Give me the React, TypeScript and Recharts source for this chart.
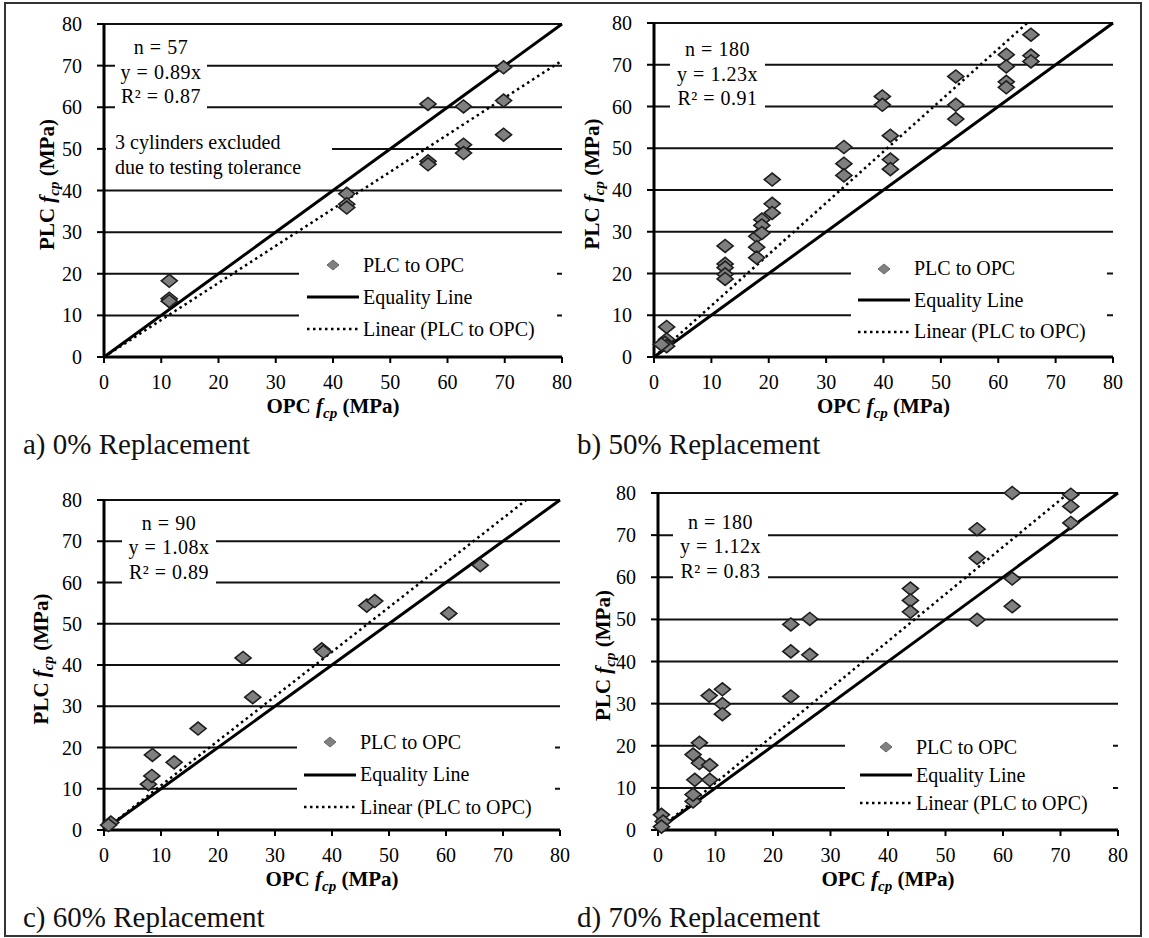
import React from "react";
import { ScatterChart, Scatter, XAxis, YAxis, CartesianGrid, Legend } from "recharts";

// a) 0% replacement
const opcA = [11.4, 11.4, 11.4, 42.4, 42.4, 42.4, 56.6, 56.6, 56.6, 62.8, 62.8, 62.8, 69.8, 69.8, 69.8];
const plcA = [18.3, 14.0, 13.4, 39.2, 36.7, 35.9, 60.8, 47.0, 46.3, 60.2, 51.0, 49.0, 69.6, 61.6, 53.4];

// b) 50% replacement
const opcB = [2.2, 2.2, 1.9, 2.2, 1.3, 12.4, 12.4, 12.4, 12.4, 12.4, 17.9, 17.9, 17.9, 18.8, 18.8, 18.8, 20.6, 20.6, 20.6,
  33.1, 33.1, 33.1, 39.8, 39.8, 41.2, 41.2, 41.2, 52.6, 52.6, 52.6, 61.4, 61.4, 61.4, 61.4, 65.7, 65.7, 65.7];
const plcB = [7.2, 4.2, 3.4, 2.6, 3.0, 26.6, 22.3, 21.4, 19.8, 18.7, 28.9, 26.3, 23.8, 32.9, 31.5, 29.7, 42.5, 36.7, 34.5,
  50.3, 46.3, 43.5, 62.4, 60.4, 53.0, 47.3, 45.0, 67.2, 60.4, 57.0, 72.4, 69.6, 65.9, 64.6, 77.2, 72.2, 70.8];

// c) 60% replacement
const opcC = [1.2, 0.8, 7.8, 8.4, 8.5, 12.3, 16.5, 24.4, 26.1, 38.2, 38.5, 46.1, 47.5, 60.5, 66.0];
const plcC = [1.8, 1.2, 11.1, 13.1, 18.2, 16.4, 24.6, 41.7, 32.2, 43.8, 43.2, 54.4, 55.5, 52.5, 64.2];

// d) 70% replacement
const opcD = [0.6, 0.9, 0.6, 6.1, 6.1, 6.4, 6.1, 7.2, 7.2, 9.0, 9.0, 8.9, 11.2, 11.2, 11.2, 23.1, 23.1, 23.1, 26.4, 26.4,
  43.9, 43.9, 43.9, 55.5, 55.5, 55.5, 61.6, 61.6, 61.6, 71.8, 71.8, 71.8];
const plcD = [3.6, 2.0, 0.8, 6.8, 8.4, 11.9, 17.9, 20.7, 15.9, 15.4, 11.9, 31.9, 33.4, 29.9, 27.5, 48.8, 42.4, 31.7, 50.1, 41.6,
  57.3, 54.5, 51.8, 71.4, 64.6, 49.9, 80.0, 59.7, 53.1, 79.6, 76.8, 72.9];

const axisTicks = [0, 10, 20, 30, 40, 50, 60, 70, 80];
const slopes = [0.89, 1.23, 1.08, 1.12];
const counts = [57, 180, 90, 180];
const rSquared = [0.87, 0.91, 0.89, 0.83];
const captions = ["a) 0% Replacement", "b) 50% Replacement", "c) 60% Replacement", "d) 70% Replacement"];
const legendNames = ["PLC to OPC", "Equality Line", "Linear (PLC to OPC)"];
const excludedNote = ["3 cylinders excluded", "due to testing tolerance"];

const AXIS_MAX = 80;
const SERIF = '"Liberation Serif", "Times New Roman", Times, "DejaVu Serif", serif';
const CHART_W = 575;
const CHART_H = 440;

const toPoints = (xs: number[], ys: number[]) => xs.map((x, i) => ({ x, y: ys[i] }));

const Diamond = (props: any) => {
  const { cx, cy } = props;
  if (cx == null || cy == null) return <g />;
  return (
    <polygon
      points={`${cx - 8},${cy} ${cx},${cy - 6.5} ${cx + 8},${cy} ${cx},${cy + 6.5}`}
      fill="#7f7f7f"
      stroke="#1e1e1e"
      strokeWidth={1.6}
    />
  );
};

const NoShape = () => <g />;

const renderXTitle = (props: any) => {
  const { x, y, width } = props.viewBox;
  return (
    <text x={x + width / 2} y={y + 56} textAnchor="middle" style={{ fontFamily: SERIF }} fontSize={21} fontWeight="bold" fill="#000">
      OPC <tspan fontStyle="italic">f</tspan>
      <tspan fontStyle="italic" fontSize={15} dy={5}>cp</tspan>
      <tspan dy={-5}> (MPa)</tspan>
    </text>
  );
};

const makeYTitle = (gap: number) => (props: any) => {
  const { x, y, width, height } = props.viewBox;
  const tx = x + width - gap;
  const ty = y + height / 2 - 6;
  return (
    <text
      x={tx}
      y={ty}
      transform={`rotate(-90 ${tx} ${ty})`}
      textAnchor="middle"
      style={{ fontFamily: SERIF }}
      fontSize={21}
      fontWeight="bold"
      fill="#000"
    >
      PLC <tspan fontStyle="italic">f</tspan>
      <tspan fontStyle="italic" fontSize={15} dy={5}>cp</tspan>
      <tspan dy={-5}> (MPa)</tspan>
    </text>
  );
};

const LegendIcon = ({ i }: { i: number }) => (
  <svg width={56} height={20} style={{ flex: "none" }}>
    {i === 0 && <polygon points="22,10 28,5 34,10 28,15" fill="#808080" stroke="#666" strokeWidth={1} />}
    {i === 1 && <line x1={2} y1={10} x2={54} y2={10} stroke="#000" strokeWidth={3} />}
    {i === 2 && <line x1={2} y1={10} x2={54} y2={10} stroke="#000" strokeWidth={2.5} strokeDasharray="2.5 3.5" />}
  </svg>
);

const LegendBox = ({ lay }: { lay: any }) => (
  <div
    style={{
      background: "#fff",
      width: lay.width,
      height: lay.height,
      boxSizing: "border-box",
      paddingTop: lay.padTop,
      paddingLeft: lay.padLeft,
      fontFamily: SERIF,
      fontSize: 20,
      color: "#000",
    }}
  >
    {legendNames.map((name, i) => (
      <div key={name} style={{ display: "flex", alignItems: "center", height: lay.rowH }}>
        <LegendIcon i={i} />
        <span style={{ marginLeft: 2, whiteSpace: "nowrap" }}>{name}</span>
      </div>
    ))}
  </div>
);

const layouts = [
  {
    left: 0, top: 0, yAxisWidth: 104, marginRight: 13, marginTop: 24, xAxisHeight: 83, yTitleGap: 50,
    stats: { left: 115, top: 34, width: 92, height: 76, padTop: 1 },
    note: { left: 106, top: 128, width: 226, height: 52, padTop: 1.5, padLeft: 9 },
    legend: { left: 299, top: 245, width: 258, height: 102, padTop: 4, padLeft: 6, rowH: 32 },
  },
  {
    left: 575, top: 0, yAxisWidth: 79, marginRight: 37, marginTop: 23, xAxisHeight: 83, yTitleGap: 55,
    stats: { left: 95, top: 36, width: 95, height: 74, padTop: 1 },
    note: null,
    legend: { left: 276, top: 249, width: 256, height: 100, padTop: 4, padLeft: 5, rowH: 31.5 },
  },
  {
    left: 0, top: 470, yAxisWidth: 104, marginRight: 15, marginTop: 30, xAxisHeight: 80, yTitleGap: 56,
    stats: { left: 122, top: 40, width: 94, height: 76, padTop: 0.75 },
    note: null,
    legend: { left: 297, top: 252, width: 258, height: 102, padTop: 4, padLeft: 5, rowH: 32.5 },
  },
  {
    left: 575, top: 470, yAxisWidth: 83, marginRight: 32, marginTop: 23, xAxisHeight: 80, yTitleGap: 48,
    stats: { left: 98, top: 39, width: 95, height: 72, padTop: 0.75 },
    note: null,
    legend: { left: 270, top: 257, width: 268, height: 94, padTop: 6, padLeft: 13, rowH: 28 },
  },
];

const panelPoints = [toPoints(opcA, plcA), toPoints(opcB, plcB), toPoints(opcC, plcC), toPoints(opcD, plcD)];

const Panel = ({ idx }: { idx: number }) => {
  const lay = layouts[idx];
  const slope = slopes[idx];
  const equality = [{ x: 0, y: 0 }, { x: AXIS_MAX, y: AXIS_MAX }];
  const trend = [{ x: 0, y: 0 }, { x: Math.min(AXIS_MAX, AXIS_MAX / slope), y: Math.min(AXIS_MAX, AXIS_MAX * slope) }];
  const statLines = [`n = ${counts[idx]}`, `y = ${slope.toFixed(2)}x`, `R² = ${rSquared[idx].toFixed(2)}`];

  return (
    <div style={{ position: "absolute", left: lay.left, top: lay.top, width: CHART_W, height: CHART_H }}>
      <ScatterChart
        width={CHART_W}
        height={CHART_H}
        margin={{ top: lay.marginTop, right: lay.marginRight, bottom: 0, left: 0 }}
      >
        <CartesianGrid horizontal vertical={false} stroke="#111" strokeWidth={2} />
        <XAxis
          type="number"
          dataKey="x"
          domain={[0, AXIS_MAX]}
          ticks={axisTicks}
          interval={0}
          height={lay.xAxisHeight}
          tickSize={6}
          tickMargin={12}
          axisLine={{ stroke: "#000", strokeWidth: 3 }}
          tickLine={{ stroke: "#000", strokeWidth: 2 }}
          tick={{ fill: "#000", fontSize: 20, style: { fontFamily: SERIF } }}
          label={renderXTitle}
        />
        <YAxis
          type="number"
          dataKey="y"
          domain={[0, AXIS_MAX]}
          ticks={axisTicks}
          interval={0}
          width={lay.yAxisWidth}
          tickSize={7}
          tickMargin={15}
          axisLine={{ stroke: "#000", strokeWidth: 3 }}
          tickLine={{ stroke: "#000", strokeWidth: 2 }}
          tick={{ fill: "#000", fontSize: 20, style: { fontFamily: SERIF } }}
          label={makeYTitle(lay.yTitleGap)}
        />
        <Scatter
          name="Equality Line"
          data={equality}
          line={{ stroke: "#000", strokeWidth: 3 }}
          shape={NoShape}
          legendType="none"
          isAnimationActive={false}
        />
        <Scatter
          name="Linear (PLC to OPC)"
          data={trend}
          line={{ stroke: "#000", strokeWidth: 2.5, strokeDasharray: "2.5 3.5" }}
          shape={NoShape}
          legendType="none"
          isAnimationActive={false}
        />
        <Scatter name="PLC to OPC" data={panelPoints[idx]} shape={Diamond} isAnimationActive={false} />
        <Legend
          layout="vertical"
          align="center"
          verticalAlign="middle"
          content={() => <LegendBox lay={lay.legend} />}
          wrapperStyle={{ left: lay.legend.left, top: lay.legend.top, width: lay.legend.width, height: lay.legend.height }}
        />
      </ScatterChart>

      <div
        style={{
          position: "absolute",
          left: lay.stats.left,
          top: lay.stats.top,
          width: lay.stats.width,
          height: lay.stats.height,
          boxSizing: "border-box",
          paddingTop: lay.stats.padTop,
          background: "#fff",
          textAlign: "center",
          fontFamily: SERIF,
          fontSize: 20,
          lineHeight: "24.5px",
          letterSpacing: 0.5,
          color: "#000",
        }}
      >
        {statLines.map((s) => (
          <div key={s} style={{ whiteSpace: "nowrap" }}>{s}</div>
        ))}
      </div>

      {lay.note && (
        <div
          style={{
            position: "absolute",
            left: lay.note.left,
            top: lay.note.top,
            width: lay.note.width,
            height: lay.note.height,
            boxSizing: "border-box",
            paddingTop: lay.note.padTop,
            paddingLeft: lay.note.padLeft,
            background: "#fff",
            fontFamily: SERIF,
            fontSize: 20,
            lineHeight: "25px",
            color: "#000",
          }}
        >
          {excludedNote.map((s) => (
            <div key={s} style={{ whiteSpace: "nowrap" }}>{s}</div>
          ))}
        </div>
      )}
    </div>
  );
};

const captionPos = [
  { left: 23, top: 430 },
  { left: 577, top: 430 },
  { left: 23, top: 903 },
  { left: 577, top: 903 },
];

export default function App() {
  return (
    <div
      style={{
        position: "absolute",
        left: 0,
        top: 0,
        width: 1149,
        height: 938,
        background: "#fff",
        fontFamily: SERIF,
        overflow: "hidden",
      }}
    >
      <div
        style={{
          position: "absolute",
          left: 4,
          top: 2,
          width: 1138,
          height: 935,
          border: "2px solid #333",
          boxSizing: "border-box",
        }}
      />
      {[0, 1, 2, 3].map((i) => (
        <Panel key={i} idx={i} />
      ))}
      {captions.map((c, i) => (
        <div
          key={c}
          style={{
            position: "absolute",
            left: captionPos[i].left,
            top: captionPos[i].top,
            fontSize: 29,
            lineHeight: "29px",
            whiteSpace: "nowrap",
            color: "#111",
          }}
        >
          {c}
        </div>
      ))}
    </div>
  );
}
